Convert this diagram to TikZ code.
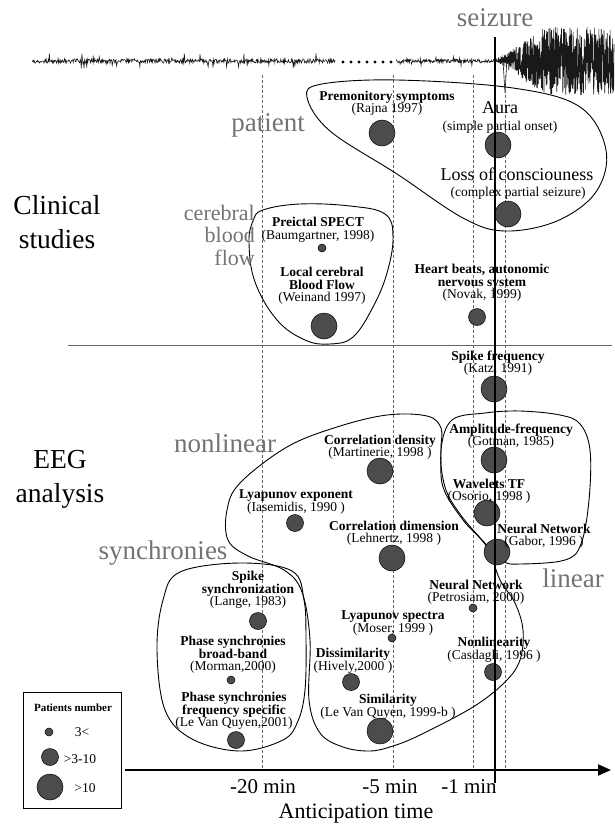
\documentclass[tikz,border=0pt]{standalone}
\usepackage{fontspec}
\setmainfont{Liberation Serif}
\usetikzlibrary{arrows.meta}

\begin{document}
\begin{tikzpicture}[x=1pt, y=-1pt,
          blob/.style={draw=black, line width=0.9pt},
          patdisc/.style={circle, draw=black, fill=black!70, line width=0.5pt, inner sep=0pt},
          smalldisc/.style={patdisc, minimum size=8pt},
          middisc/.style={patdisc, minimum size=17pt},
          bigdisc/.style={patdisc, minimum size=26pt},
          study/.style={align=center, inner sep=0pt, font=\bfseries\fontsize{13.5}{12.5}\selectfont},
          cite/.style={inner sep=0pt, font=\fontsize{13.5}{12.5}\selectfont},
          event/.style={inner sep=0pt, font=\fontsize{18}{16}\selectfont},
          group/.style={text=black!55, inner sep=0pt, font=\fontsize{27}{24}\selectfont},
          section/.style={align=center, inner sep=0pt, font=\fontsize{27.5}{34}\selectfont},
          tick/.style={inner sep=0pt, font=\fontsize{21}{24}\selectfont},
          guide/.style={densely dashed, black!60, line width=0.5pt},
          trace/.style={line width=0.6pt, black!90},
          axis/.style={-{Triangle[length=13pt, width=11pt]}, line width=2pt}]
        \useasboundingbox (0,0) rectangle (614,828);
        \pgfmathsetseed{11}

        % EEG recording
        \draw [trace] plot[domain=32:335, samples=560] (\x, {61+rand*(2.2+5.5*(rnd>0.93))});
        \foreach \d in {343,351,...,391}
          \fill (\d,62) circle (1.6);
        \draw [trace] plot[domain=396:498, samples=200] (\x, {61+rand*(1.8+3.5*(rnd>0.9))});
        \draw [trace] plot[domain=498:614, samples=700] (\x, {61+rand*(3+31*min(1,max(0,(\x-500)/45)))});
        \draw [trace] (503,61) -- (505,93) -- (507,58);

        % time marks
        \foreach \t in {262,393,473,505}
          \draw [guide] (\t,75) -- (\t,768);
        \draw [black!60, line width=0.9pt] (68,345) -- (612,345);

        % groups
        \draw [blob] plot[smooth cycle, tension=0.6] coordinates {(307,97) (322,84) (397,80) (513,88) (580,107) (606,150) (596,192) (557,221) (505,231) (463,218) (397,174) (330,131)};
        \draw [blob] plot[smooth cycle, tension=0.65] coordinates {(263,210) (300,204) (350,206) (385,214) (393,237) (387,273) (373,307) (353,337) (330,344) (305,340) (277,320) (255,282) (249,243) (253,221)};
        \draw [blob] plot[smooth cycle, tension=0.6] coordinates {(228,540) (227,510) (240,483) (287,447) (337,427) (387,415) (427,416) (441,428) (441,450) (443,487) (463,520) (487,547) (500,580) (515,603) (523,630) (520,660) (505,682) (473,707) (420,735) (393,746) (370,751) (343,747) (320,733) (309,700) (310,640) (302,592) (284,570) (248,556)};
        \draw [blob] plot[smooth cycle, tension=0.6] coordinates {(452,420) (485,413) (520,411) (560,415) (580,424) (590,450) (589,500) (581,544) (565,560) (520,564) (503,561) (483,541) (460,514) (445,487) (441,450)};
        \draw [blob] plot[smooth cycle, tension=0.6] coordinates {(180,572) (240,563) (292,571) (304,600) (306,640) (305,690) (298,721) (283,740) (240,751) (192,739) (165,710) (157,650) (163,600)};

        % patients
        \node [bigdisc] (premd) at (382,133) {};
        \node [bigdisc] (aurad) at (498,145) {};
        \node [bigdisc] (lossd) at (508,214) {};
        \node [smalldisc] (spectd) at (322,248) {};
        \node [bigdisc] (lcbfd) at (324,326) {};
        \node [middisc] (heartd) at (477,317) {};
        \node [bigdisc] (spiked) at (494,389) {};
        \node [bigdisc] (ampd) at (494,460) {};
        \node [bigdisc] (waved) at (487,513) {};
        \node [bigdisc] (gabord) at (497,552) {};
        \node [bigdisc] (densd) at (380,471) {};
        \node [middisc] (lyapd) at (295,523) {};
        \node [bigdisc] (dimd) at (392,558) {};
        \node [smalldisc] (petrod) at (473,608) {};
        \node [smalldisc] (specd) at (392,638) {};
        \node [middisc] (nonlind) at (493,672) {};
        \node [middisc] (dissimd) at (351,682) {};
        \node [bigdisc] (simd) at (380,731) {};
        \node [middisc] (syncd) at (258,621) {};
        \node [smalldisc] (broadd) at (231,680) {};
        \node [middisc] (freqd) at (236,740) {};

        % seizure onset and time axis
        \coordinate (onset) at (495,37);
        \coordinate (onsetend) at (495,783);
        \draw [line width=2.6pt] (onset) -- (onsetend);
        \coordinate (axstart) at (125,770);
        \coordinate (axend) at (611,770);
        \draw [axis] (axstart) -- (axend);

        % studies
        \node [study] (prem) at (387,103) {Premonitory symptoms\\\mdseries(Rajna 1997)};
        \node [event] (aura) at (500,108) {Aura};
        \node [cite] (auraref) at (500,127) {(simple partial onset)};
        \node [event] (loss) at (517,174) {Loss of consciouness};
        \node [cite] (lossref) at (518,193) {(complex partial seizure)};
        \node [study] (spect) at (318,230) {Preictal SPECT\\\mdseries(Baumgartner, 1998)};
        \node [study] (lcbf) at (322,286) {Local cerebral\\Blood Flow\\\mdseries(Weinand 1997)};
        \node [study] (heart) at (482,283) {Heart beats, autonomic\\nervous system\\\mdseries(Novak, 1999)};
        \node [study] (spike) at (498,363) {Spike frequency\\\mdseries(Katz, 1991)};
        \node [study] (amp) at (511,436) {Amplitude-frequency\\\mdseries(Gotman, 1985)};
        \node [study] (wave) at (489,491) {Wavelets TF\\\mdseries(Osorio, 1998 )};
        \node [study] (gabor) at (544,536) {Neural Network\\\mdseries(Gabor, 1996 )};
        \node [study] (dens) at (380,447) {Correlation density\\\mdseries(Martinerie, 1998 )};
        \node [study] (lyap) at (296,502) {Lyapunov exponent\\\mdseries(Iasemidis, 1990 )};
        \node [study] (dim) at (394,533) {Correlation dimension\\\mdseries(Lehnertz, 1998 )};
        \node [study] (petro) at (476,592) {Neural Network\\\mdseries(Petrosiam, 2000)};
        \node [study] (spec) at (393,623) {Lyapunov spectra\\\mdseries(Moser, 1999 )};
        \node [study] (nonlin) at (494,650) {Nonlinearity\\\mdseries(Casdagli, 1996 )};
        \node [study] (dissim) at (353,661) {Dissimilarity\\\mdseries(Hively,2000 )};
        \node [study] (sim) at (388,707) {Similarity\\\mdseries(Le Van Quyen, 1999-b )};
        \node [study] (sync) at (248,590) {Spike\\synchronization\\\mdseries(Lange, 1983)};
        \node [study] (broad) at (233,655) {Phase synchronies\\broad-band\\\mdseries(Morman,2000)};
        \node [study] (freq) at (234,711) {Phase synchronies\\frequency specific\\\mdseries(Le Van Quyen,2001)};

        % group names
        \node [group] (seiz) at (495,18) {seizure};
        \node [group] (pat) at (268,125) {patient};
        \node [group, align=right, anchor=east, font=\fontsize{22}{22.5}\selectfont] (cbf) at (255,235) {cerebral\\blood\\flow};
        \node [group] (nonl) at (225,443) {nonlinear};
        \node [group] (synch) at (163,553) {synchronies};
        \node [group] (lin) at (573,578) {linear};
        \node [section] (clin) at (57,222) {Clinical\\studies};
        \node [section] (eeg) at (60,479) {EEG\\analysis};

        % axis labels
        \node [tick] (t20) at (263,787) {-20 min};
        \node [tick] (t5) at (390,787) {-5 min};
        \node [tick] (t1) at (469,787) {-1 min};
        \node [tick, font=\fontsize{22}{24}\selectfont] (antic) at (356,814) {Anticipation time};

        % legend
        \node [draw, line width=0.9pt, minimum width=98pt, minimum height=116pt] (legend) at (72,750) {};
        \node [inner sep=0pt, font=\bfseries\fontsize{11}{12}\selectfont] (legtitle) at (73,708) {Patients number};
        \node [smalldisc] (legs) at (49,732) {};
        \node [middisc] (legm) at (50,757) {};
        \node [bigdisc] (legb) at (50,787) {};
        \node [cite] (legst) at (82,732) {3<};
        \node [cite] (legmt) at (80,759) {>3-10};
        \node [cite] (legbt) at (85,788) {>10};
      \end{tikzpicture}
\end{document}
